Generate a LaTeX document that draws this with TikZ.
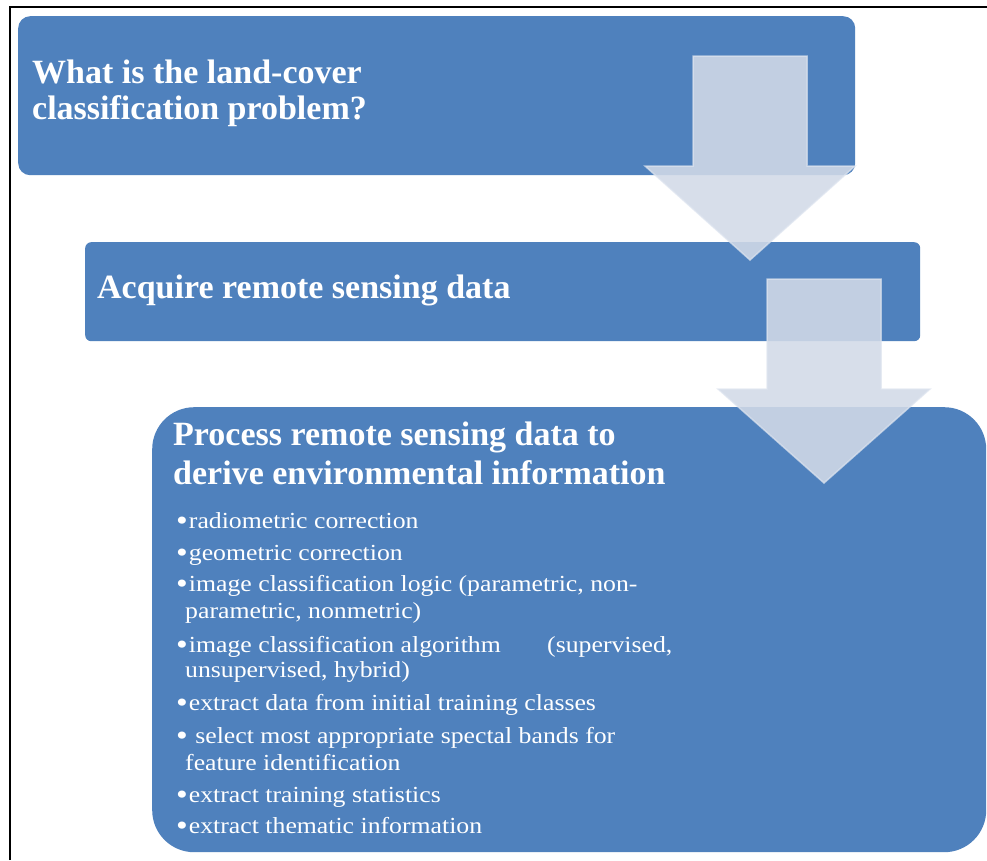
\documentclass[tikz,border=0pt]{standalone}
\usepackage{fontspec}
\setmainfont{Liberation Serif}
\newfontfamily\itemfont[FakeStretch=1.12]{Liberation Serif}
\definecolor{boxblue}{HTML}{4F81BD}
\definecolor{arrowfill}{HTML}{D2DAE8}
\definecolor{arrowedge}{HTML}{DDE4EF}

\tikzset{
  panel/.style={fill=boxblue, draw=none, anchor=north west, inner sep=0pt},
  flowarrow/.style={fill=arrowfill, fill opacity=0.88, draw=arrowedge, draw opacity=0.7, line width=1.5pt, line join=miter},
  title/.style={anchor=base west, inner sep=0pt, text=white, font=\bfseries\fontsize{34}{38}\selectfont},
  item/.style={anchor=base west, inner sep=0pt, text=white, font=\itemfont\fontsize{23}{27}\selectfont},
}
\newcommand{\itembullet}{\raisebox{-2pt}{\scalebox{1.3}{\textbullet}}\hspace{1pt}}

\begin{document}
\begin{tikzpicture}[x=1pt,y=-1pt]
\useasboundingbox (0,0) rectangle (987,860);
\fill[white] (0,0) rectangle (987,860);
% frame
\draw[line width=2pt] (9.5,860) -- (9.5,6.5) -- (987,6.5);

% step panels
\node[panel, rounded corners=12pt, minimum width=837pt, minimum height=159pt] (problem) at (18,16) {};
\node[panel, rounded corners=6pt, minimum width=835pt, minimum height=99pt] (acquire) at (85,242) {};
\node[panel, rounded corners=42pt, minimum width=834pt, minimum height=445pt] (process) at (152,407) {};

% block arrows between the steps
\draw[flowarrow] (693,56) -- (807,56) -- (807,166) -- (855,166) -- (750,260) -- (645,166) -- (693,166) -- cycle;
\draw[flowarrow] (767,279) -- (881,279) -- (881,389) -- (930,389) -- (824,483) -- (718,389) -- (767,389) -- cycle;

% panel titles
\node[title] (problemA) at (32,83) {What is the land-cover};
\node[title] (problemB) at (32,119) {classification problem?};
\node[title] (acquireA) at (97,298) {Acquire remote sensing data};
\node[title] (processA) at (173,445) {Process remote sensing data to};
\node[title] (processB) at (173,484) {derive environmental information};

% processing steps
\node[item] (s1) at (176,528) {\itembullet radiometric correction};
\node[item] (s2) at (176,560) {\itembullet geometric correction};
\node[item] (s3a) at (176,591) {\itembullet image classification logic (parametric, non-};
\node[item] (s3b) at (185,618) {parametric, nonmetric)};
\node[item] (s4a) at (176,652) {\itembullet image classification algorithm};
\node[item] (s4c) at (547,652) {(supervised,};
\node[item] (s4b) at (185,677) {unsupervised, hybrid)};
\node[item] (s5) at (176,710) {\itembullet extract data from initial training classes};
\node[item] (s6a) at (176,743) {\itembullet\ select most appropriate spectal bands for};
\node[item] (s6b) at (185,770) {feature identification};
\node[item] (s7) at (176,802) {\itembullet extract training statistics};
\node[item] (s8) at (176,833) {\itembullet extract thematic information};
\end{tikzpicture}
\end{document}
